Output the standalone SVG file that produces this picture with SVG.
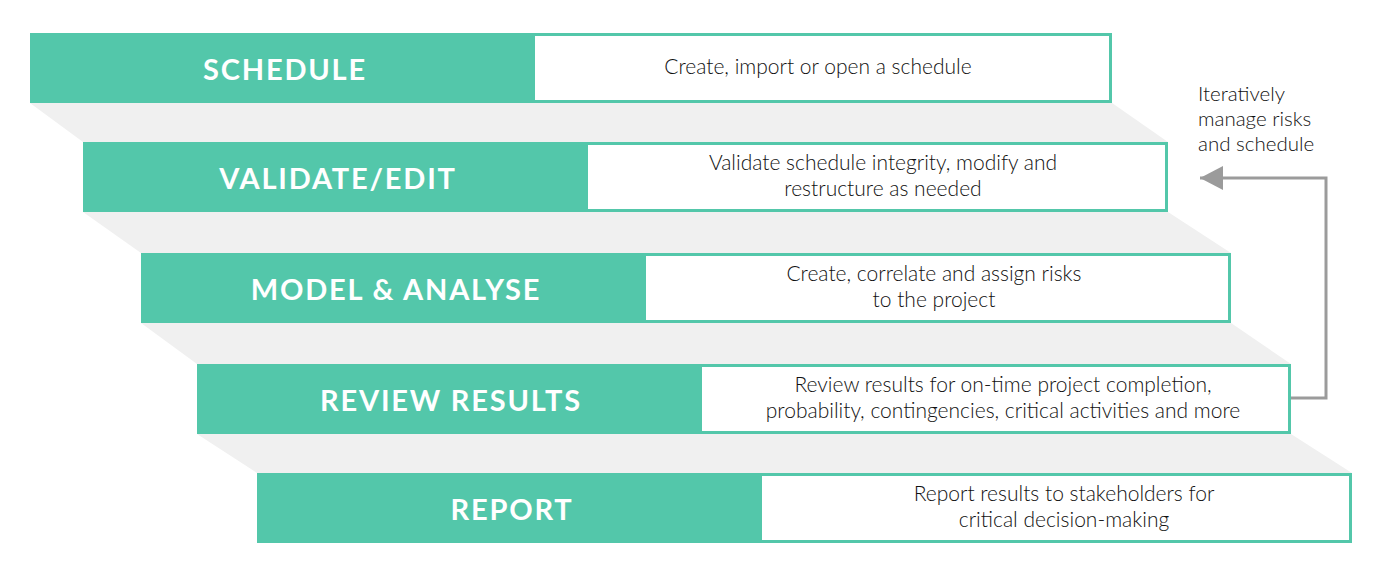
<svg xmlns="http://www.w3.org/2000/svg" width="1383" height="580" viewBox="0 0 1383 580">
<defs>
<style>
.bg{fill:#ffffff}
.shadow{fill:#f0f0f0}
.tag{fill:#53c7aa}
.box{fill:#ffffff;stroke:#53c7aa;stroke-width:3}
.lbl{font-family:Lato,"Liberation Sans",sans-serif;font-weight:bold;font-size:29px;letter-spacing:1.8px;fill:#ffffff;text-anchor:middle}
.desc{font-family:Lato,"Liberation Sans",sans-serif;font-weight:300;font-size:21px;fill:#111111;text-anchor:middle}
.note{font-family:Lato,"Liberation Sans",sans-serif;font-weight:300;font-size:20.5px;fill:#111111}
.conn{fill:none;stroke:#9b9b9b;stroke-width:3}
</style>
<marker id="arr" markerUnits="userSpaceOnUse" markerWidth="24" markerHeight="26" refX="23" refY="12" orient="auto">
<polygon points="0,0 23,12 0,24" fill="#9b9b9b"/>
</marker>
</defs>
<rect class="bg" x="0" y="0" width="1383" height="580"/>
<g id="shadows">
<polygon class="shadow" points="30,103 1112,103 1168,142 83,142"/>
<polygon class="shadow" points="83,212 1168,212 1231,253 141,253"/>
<polygon class="shadow" points="141,323 1231,323 1291,364 197,364"/>
<polygon class="shadow" points="197,434 1291,434 1352,473 257,473"/>
</g>
<g id="schedule">
<rect class="tag" x="30" y="33" width="503" height="70"/>
<rect class="box" x="533.5" y="34.5" width="577" height="67"/>
<text class="lbl" x="285" y="80">SCHEDULE</text>
<text class="desc" x="818" y="74">Create, import or open a schedule</text>
</g>
<g id="validate">
<rect class="tag" x="83" y="142" width="503" height="70"/>
<rect class="box" x="586.5" y="143.5" width="580" height="67"/>
<text class="lbl" x="338" y="189">VALIDATE/EDIT</text>
<text class="desc" x="883" y="170">Validate schedule integrity, modify and</text>
<text class="desc" x="883" y="196">restructure as needed</text>
</g>
<g id="model">
<rect class="tag" x="141" y="253" width="503" height="70"/>
<rect class="box" x="644.5" y="254.5" width="585" height="67"/>
<text class="lbl" x="396" y="300">MODEL &amp; ANALYSE</text>
<text class="desc" x="934" y="281">Create, correlate and assign risks</text>
<text class="desc" x="934" y="307">to the project</text>
</g>
<g id="review">
<rect class="tag" x="197" y="364" width="503" height="70"/>
<rect class="box" x="700.5" y="365.5" width="589" height="67"/>
<text class="lbl" x="451" y="411">REVIEW RESULTS</text>
<text class="desc" x="1003" y="392">Review results for on-time project completion,</text>
<text class="desc" x="1003" y="418">probability, contingencies, critical activities and more</text>
</g>
<g id="report">
<rect class="tag" x="257" y="473" width="503" height="70"/>
<rect class="box" x="760.5" y="474.5" width="590" height="67"/>
<text class="lbl" x="512" y="520">REPORT</text>
<text class="desc" x="1064" y="501">Report results to stakeholders for</text>
<text class="desc" x="1064" y="527">critical decision-making</text>
</g>
<g id="connectors">
<path class="conn" d="M1291,398 H1326 V178 H1200" marker-end="url(#arr)"/>
</g>
<g id="iterate-note">
<text class="note" x="1198" y="101">Iteratively</text>
<text class="note" x="1198" y="126">manage risks</text>
<text class="note" x="1198" y="151">and schedule</text>
</g>
</svg>
